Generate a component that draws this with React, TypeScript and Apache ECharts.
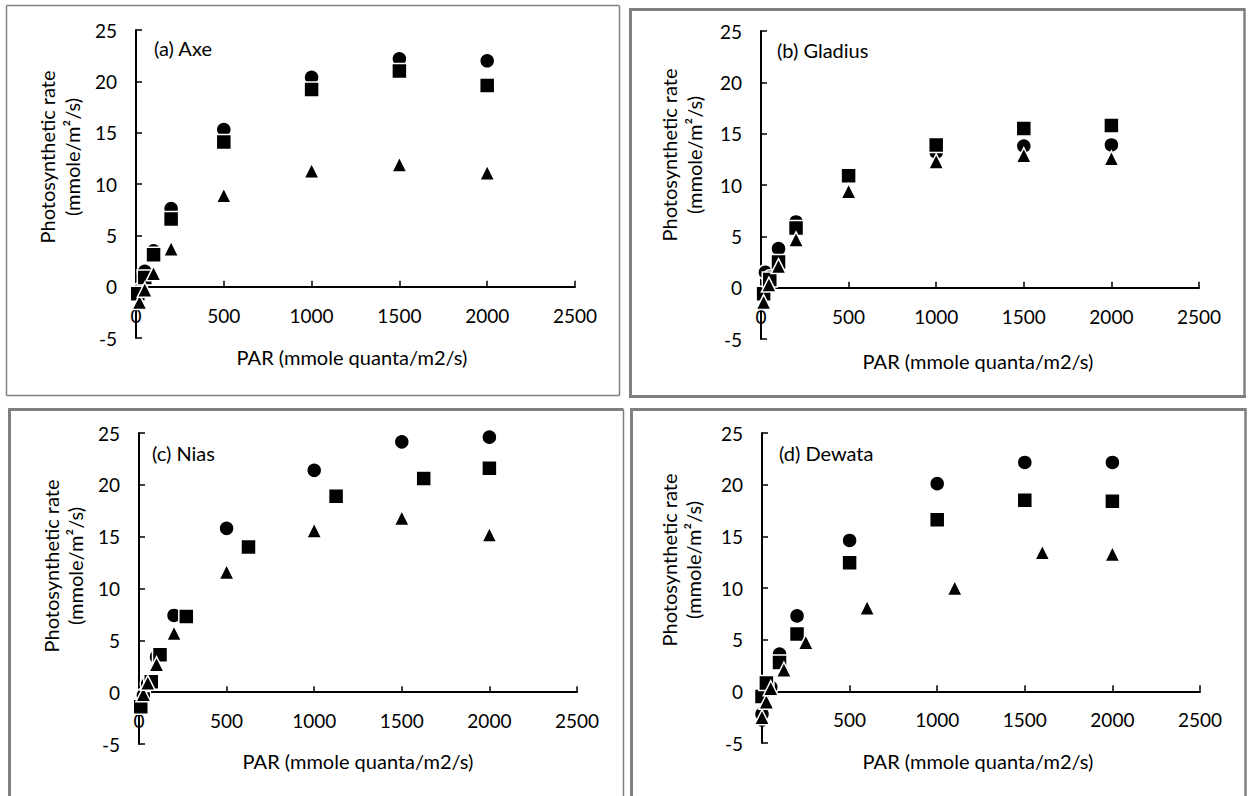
import React, { useEffect, useRef } from "react";
import * as echarts from "echarts";

// PAR values (x) and photosynthetic rates (y) for each cultivar and treatment
const aCircleX = [25, 50, 100, 200, 500, 1000, 1500, 2000];
const aCircleY = [-0.3, 1.5, 3.5, 7.6, 15.3, 20.4, 22.2, 22.0];
const aSquareX = [10, 50, 100, 200, 500, 1000, 1500, 2000];
const aSquareY = [-0.7, 0.9, 3.1, 6.6, 14.1, 19.2, 21.0, 19.6];
const aTriangleX = [20, 50, 100, 200, 500, 1000, 1500, 2000];
const aTriangleY = [-1.5, -0.3, 1.3, 3.7, 8.9, 11.3, 11.9, 11.1];

const bCircleX = [25, 50, 100, 200, 500, 1000, 1500, 2000];
const bCircleY = [1.5, 1.0, 3.8, 6.4, 11.0, 13.2, 13.8, 13.9];
const bSquareX = [15, 50, 100, 200, 500, 1000, 1500, 2000];
const bSquareY = [-0.6, 0.8, 2.5, 5.8, 10.9, 13.9, 15.5, 15.8];
const bTriangleX = [15, 45, 100, 200, 500, 1000, 1500, 2000];
const bTriangleY = [-1.4, 0.3, 2.1, 4.7, 9.4, 12.3, 12.9, 12.6];

const cCircleX = [25, 50, 100, 200, 500, 1000, 1500, 2000];
const cCircleY = [-0.3, 0.8, 3.4, 7.4, 15.8, 21.4, 24.15, 24.6];
const cSquareX = [10, 70, 120, 270, 625, 1125, 1625, 2000];
const cSquareY = [-1.4, 1.0, 3.6, 7.3, 14.0, 18.9, 20.6, 21.6];
const cTriangleX = [25, 50, 100, 200, 500, 1000, 1500, 2000];
const cTriangleY = [-0.2, 0.9, 2.7, 5.7, 11.6, 15.6, 16.8, 15.2];

const dCircleX = [0, 50, 100, 200, 500, 1000, 1500, 2000];
const dCircleY = [-2.2, 0.4, 3.6, 7.3, 14.6, 20.1, 22.15, 22.15];
const dSquareX = [0, 25, 100, 200, 500, 1000, 1500, 2000];
const dSquareY = [-0.5, 0.8, 2.8, 5.55, 12.45, 16.6, 18.5, 18.4];
const dTriangleX = [0, 25, 50, 125, 250, 600, 1100, 1600, 2000];
const dTriangleY = [-2.5, -1.0, 0.3, 2.1, 4.75, 8.1, 10.0, 13.45, 13.3];

const panelLabels = ["(a) Axe", "(b) Gladius", "(c) Nias", "(d) Dewata"];
const xTitle = "PAR (mmole quanta/m2/s)";
const yTitle1 = "Photosynthetic rate";
const yTitle2 = "(mmole/m\u00b2/s)";

const X_MIN = 0;
const X_MAX = 2500;
const X_STEP = 500;
const Y_MIN = -5;
const Y_MAX = 25;
const Y_STEP = 5;

const FONT = "Lato";
const TITLE_FS = 20;
const TICK_FS = 19;

const zip = (xs: number[], ys: number[]) => xs.map((x, i) => [x, ys[i]]);

const panels = [
  { circle: zip(aCircleX, aCircleY), square: zip(aSquareX, aSquareY), triangle: zip(aTriangleX, aTriangleY) },
  { circle: zip(bCircleX, bCircleY), square: zip(bSquareX, bSquareY), triangle: zip(bTriangleX, bTriangleY) },
  { circle: zip(cCircleX, cCircleY), square: zip(cSquareX, cSquareY), triangle: zip(cTriangleX, cTriangleY) },
  { circle: zip(dCircleX, dCircleY), square: zip(dSquareX, dSquareY), triangle: zip(dTriangleX, dTriangleY) },
];

// plot area of each panel
const grids = [
  { left: 136, top: 30, width: 439, height: 308 },
  { left: 761, top: 31, width: 438, height: 308 },
  { left: 139, top: 433, width: 438, height: 311 },
  { left: 762, top: 433, width: 438, height: 310 },
];

// positions of panel texts
const labelPos = [
  { tag: [154, 48], y1: [47, 157], y2: [72, 157], xt: [352, 357] },
  { tag: [777, 50], y1: [669, 155], y2: [694, 155], xt: [978, 361] },
  { tag: [152, 453], y1: [51, 566], y2: [75, 566], xt: [358, 761] },
  { tag: [779, 453], y1: [669, 560], y2: [693, 560], xt: [978, 761] },
];

const textStyle = (text: string, align: string) => ({
  text,
  fill: "#000",
  font: `${TITLE_FS}px ${FONT}`,
  textAlign: align,
  textVerticalAlign: "middle",
});

export default function App() {
  const ref = useRef<HTMLDivElement>(null);

  useEffect(() => {
    if (!ref.current) return;
    document.body.style.margin = "0";
    const chart = echarts.init(ref.current, undefined, { renderer: "svg" });

    const marker = { color: "#000", opacity: 1, borderColor: "#fff", borderWidth: 1.5 };
    const series: any[] = [];
    panels.forEach((p, i) => {
      const common = { type: "scatter", xAxisIndex: i, yAxisIndex: i, symbolSize: 15, itemStyle: marker };
      series.push({ ...common, name: "circle", symbol: "circle", data: p.circle });
      series.push({ ...common, name: "square", symbol: "rect", data: p.square });
      series.push({ ...common, name: "triangle", symbol: "triangle", data: p.triangle });
    });

    const axisLabel = {
      color: "#000",
      fontSize: TICK_FS,
      fontFamily: FONT,
      formatter: (v: number) => String(v),
    };

    const graphic: any[] = [];
    // panel frames
    const grey = "#808080";
    const line = (x1: number, y1: number, x2: number, y2: number, w: number) => ({
      type: "line",
      shape: { x1, y1, x2, y2 },
      style: { stroke: grey, lineWidth: w },
    });
    graphic.push(line(6.5, 5.5, 619, 5.5, 1.5), line(6.5, 5.5, 6.5, 395.5, 1.5), line(6.5, 395.5, 619.5, 395.5, 1.5), line(619.5, 5.5, 619.5, 395.5, 1.5));
    graphic.push(line(630.5, 9.5, 1244.5, 9.5, 3), line(630.5, 8, 630.5, 397, 3), line(629, 396.5, 1246, 396.5, 3), line(1244.5, 8, 1244.5, 398, 2.5));
    graphic.push(line(9.5, 409.5, 623.5, 409.5, 3), line(9.5, 408, 9.5, 800, 3), line(623.5, 409.5, 623.5, 800, 1.5));
    graphic.push(line(631.5, 409.5, 1245.5, 409.5, 3), line(631.5, 408, 631.5, 800, 3), line(1245.5, 408, 1245.5, 800, 2.5));

    labelPos.forEach((lp, i) => {
      graphic.push({ type: "text", x: lp.tag[0], y: lp.tag[1], style: textStyle(panelLabels[i], "left") });
      graphic.push({ type: "text", x: lp.y1[0], y: lp.y1[1], rotation: Math.PI / 2, style: textStyle(yTitle1, "center") });
      graphic.push({ type: "text", x: lp.y2[0], y: lp.y2[1], rotation: Math.PI / 2, style: textStyle(yTitle2, "center") });
      graphic.push({ type: "text", x: lp.xt[0], y: lp.xt[1], style: textStyle(xTitle, "center") });
    });

    chart.setOption({
      animation: false,
      backgroundColor: "#fff",
      grid: grids,
      // the x axis (line, ticks and labels) sits on y = 0
      xAxis: grids.map((g, i) => ({
        type: "value",
        gridIndex: i,
        min: X_MIN,
        max: X_MAX,
        interval: X_STEP,
        offset: -(g.height * (0 - Y_MIN)) / (Y_MAX - Y_MIN),
        axisLine: { onZero: false, lineStyle: { color: "#000", width: 2 } },
        axisTick: { inside: true, length: 6, lineStyle: { color: "#000", width: 1.5 } },
        axisLabel: { ...axisLabel, margin: 19 },
        splitLine: { show: false },
      })),
      yAxis: grids.map((_, i) => ({
        type: "value",
        gridIndex: i,
        min: Y_MIN,
        max: Y_MAX,
        interval: Y_STEP,
        axisLine: { show: true, onZero: false, lineStyle: { color: "#000", width: 2 } },
        axisTick: { show: true, inside: true, length: 6, lineStyle: { color: "#000", width: 1.5 } },
        axisLabel: { ...axisLabel, margin: 19 },
        splitLine: { show: false },
      })),
      series,
      graphic,
    });

    return () => chart.dispose();
  }, []);

  return (
    <div
      ref={ref}
      style={{ position: "absolute", left: 0, top: 0, width: 1253, height: 796, background: "#fff" }}
    />
  );
}
